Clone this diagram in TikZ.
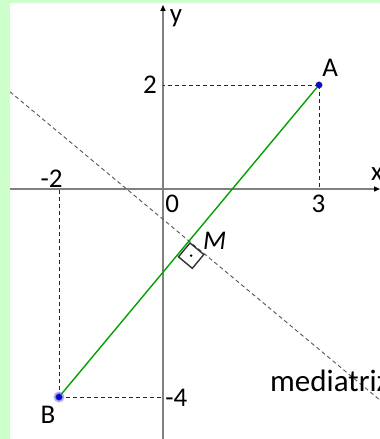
\documentclass[tikz,border=0pt]{standalone}
\usepackage{fontspec}
\setmainfont{Carlito}
\usetikzlibrary{calc, arrows.meta}
\definecolor{bggreen}{RGB}{204,255,204}
\definecolor{seggreen}{RGB}{0,160,0}
\definecolor{ptblue}{RGB}{0,0,230}
\definecolor{halo}{RGB}{150,150,255}
\begin{document}
\begin{tikzpicture}[
    x=52pt, y=52pt,
    axis/.style={draw=gray, line width=1.4pt, -{Triangle[length=6pt, width=5pt, color=black]}},
    helper/.style={draw=black!85, line width=0.9pt, dash pattern=on 4pt off 3pt},
    bisector/.style={draw=black!65, line width=0.9pt, dash pattern=on 4pt off 3pt},
    segment/.style={draw=seggreen, line width=1.4pt},
    point/.style={circle, fill=ptblue, draw=black!70, line width=0.4pt, inner sep=0pt, minimum size=6.5pt},
    lbl/.style={inner sep=0pt, font=\fontsize{27}{30}\selectfont}
]
% frame
\fill[bggreen] (-3.1346,3.6346) rectangle (4.1731,-4.8077);
\fill[white] (-2.9423,3.5769) rectangle (4.1731,-4.8077);
\useasboundingbox (-3.1346,3.6346) rectangle (4.1731,-4.8077);

% axes
\coordinate (xl) at (-2.9423,0);
\coordinate (xr) at (4.1731,0);
\coordinate (yb) at (0,-4.8077);
\coordinate (yt) at (0,3.54);
\draw[axis] (xl) -- (xr);
\draw[axis] (yb) -- (yt);
\node[lbl, anchor=base west] (xlab) at (4.0,0.17) {x};
\node[lbl, anchor=base west] (ylab) at (0.13,3.21) {y};

% points
\coordinate (Ax) at (3,0);
\coordinate (Ay) at (0,2);
\coordinate (Bx) at (-2,0);
\coordinate (By) at (0,-4);
\coordinate (M) at (0.5,-1);
\coordinate (mL) at (-2.9423,1.8686);
\coordinate (mR) at (4.1731,-4.0609);

\draw[helper] (3,2) -- (Ax);
\draw[helper] (3,2) -- (Ay);
\draw[helper] (-2,-4) -- (Bx);
\draw[helper] (-2,-4) -- (By);
\draw[bisector] (mL) -- (mR);

\fill[halo, opacity=0.8] (-2,-4) circle (5.5pt);
\node[point] (B) at (-2,-4) {};
\node[point] (A) at (3,2) {};
\draw[segment] (A) -- (B);

% right angle mark
\coordinate (u) at ($(M)!18pt!(-2,-4)$);
\coordinate (v) at ($(M)!18pt!(mR)$);
\coordinate (s0) at ($(M)+(1pt,-2pt)$);
\coordinate (s1) at ($(s0)+(u)-(M)$);
\coordinate (s2) at ($(s0)+(v)-(M)$);
\coordinate (s3) at ($(s1)+(v)-(M)$);
\draw[black!80, line width=1.4pt] (s0) -- (s1) -- (s3) -- (s2) -- cycle;
\fill[black] ($(s0)!0.5!(s3)$) circle (1.4pt);

% labels
\node[lbl, anchor=base west] (alab) at (3.06,2.154) {A};
\node[lbl, anchor=base] (blab) at (-2.21,-4.5) {B};
\node[lbl, anchor=base west] (mlab) at (0.77,-1.17) {\itshape M};
\node[lbl, anchor=base east] (l2) at (-0.115,1.827) {2};
\node[lbl, anchor=base] (lm2) at (-2.144,0.02) {-2};
\node[lbl, anchor=base west] (l0) at (0.04,-0.46) {0};
\node[lbl, anchor=base] (l3) at (2.99,-0.46) {3};
\node[lbl, anchor=base west] (lm4) at (0.04,-4.19) {-4};
\node[lbl, anchor=base west, font=\fontsize{31}{36}\selectfont] (med) at (2.058,-3.885) {mediatriz};
\end{tikzpicture}
\end{document}
